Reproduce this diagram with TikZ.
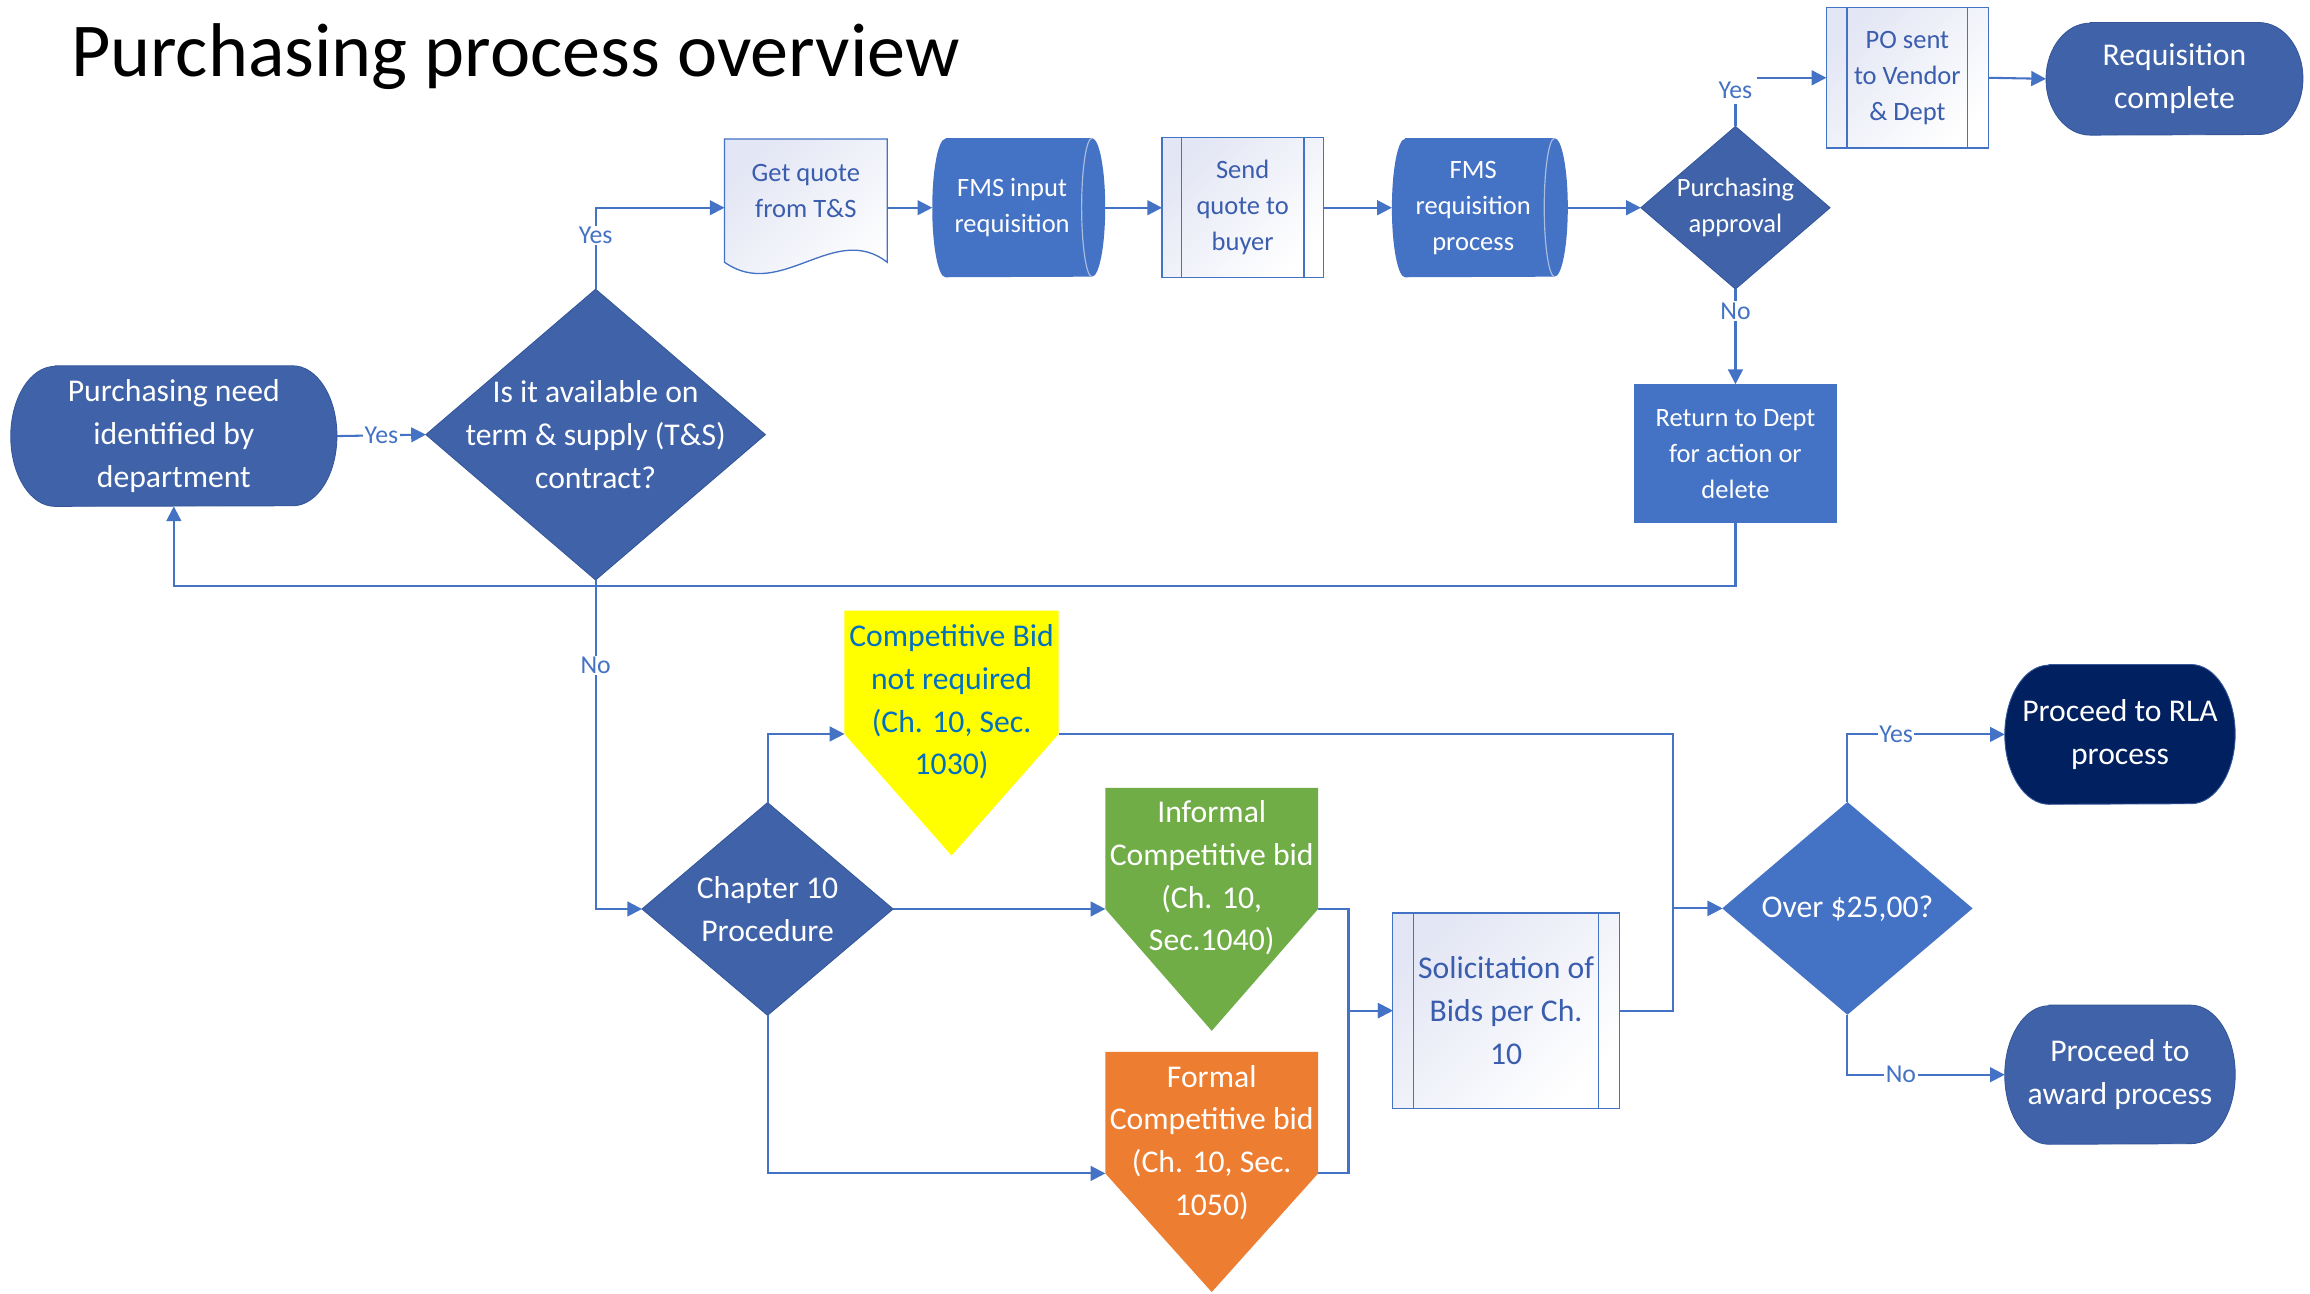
\documentclass[tikz,border=0pt]{standalone}
\usepackage{fontspec}
\setmainfont{Carlito}
\usetikzlibrary{arrows.meta,backgrounds,calc}
\definecolor{mblue}{HTML}{4472C4}
\definecolor{dblue}{HTML}{3F62A9}
\definecolor{cnavy}{HTML}{002060}
\definecolor{tblue}{HTML}{3A5DAE}
\definecolor{lav}{HTML}{E3E6F4}
\definecolor{cyel}{HTML}{FFFF00}
\definecolor{ytext}{HTML}{0070C0}
\definecolor{cgreen}{HTML}{70AD47}
\definecolor{corange}{HTML}{ED7D31}
\definecolor{dedge}{HTML}{35579A}
\definecolor{cyledge}{HTML}{A9BCE0}
\newcommand\termshape[4]{\path[#4] ([xshift=#2]#1.north west) -- ([xshift=-#2]#1.north east) arc[start angle=90,end angle=-90,x radius=#2,y radius=#3] -- ([xshift=#2]#1.south west) arc[start angle=270,end angle=90,x radius=#2,y radius=#3] -- cycle;}
\newcommand\diashape[2]{\path[#2] (#1.north) -- (#1.east) -- (#1.south) -- (#1.west) -- cycle;}
\newcommand\cylshape[1]{\path[fill=mblue] ([xshift=9pt]#1.north west) -- (#1.north east) arc[start angle=90,end angle=-90,x radius=9pt,y radius=47pt] -- ([xshift=9pt]#1.south west) arc[start angle=270,end angle=90,x radius=9pt,y radius=47pt] -- cycle;
\draw[cyledge,line width=0.8pt] (#1.north east) arc[start angle=90,end angle=270,x radius=7pt,y radius=47pt];}
\newcommand\predef[2]{\path[lightfill] (#1.north west) rectangle (#1.south east);
\draw[mblue,line width=0.9pt] ([xshift=#2]#1.north west) -- ([xshift=#2]#1.south west) ([xshift=-#2]#1.north east) -- ([xshift=-#2]#1.south east);}
\begin{document}
\begin{tikzpicture}[x=1pt,y=-1pt,
 box/.style={rectangle,draw=none,inner sep=0pt,align=center},
 big/.style={font=\fontsize{21.5}{29}\selectfont},
 small/.style={font=\fontsize{18}{24.5}\selectfont},
 wt/.style={text=white},
 bt/.style={text=tblue},
 conn/.style={draw=mblue,line width=1.4pt,-{Triangle[length=10pt,width=10pt]}},
 lab/.style={fill=white,text=mblue,font=\fontsize{17.5}{20}\selectfont,inner sep=1pt},
 lightfill/.style={top color=lav,bottom color=white,shading angle=45,draw=mblue,line width=0.9pt},
 darkfill/.style={fill=dblue,draw=dedge,line width=0.6pt},
 ]
\useasboundingbox (0,0) rectangle (1568,878);

\node[anchor=base west,font=\fontsize{51.7}{60}\selectfont,inner sep=0pt] (title) at (48,52) {Purchasing process overview};

\node[box,big,wt,minimum width=221,minimum height=95] (need) at (118,296) {Purchasing need\\identified by\\department};
\node[box,big,wt,minimum width=230,minimum height=197] (isit) at (404.3,295) {Is it available on\\term \& supply (T\&S)\\contract?};
\node[box,small,bt,minimum width=110,minimum height=70] (gq) at (547,129.5) {Get quote\\from T\&S};
\node[box,small,wt,minimum width=108,minimum height=94] (fms1) at (687,141) {FMS input\\requisition};
\node[box,small,bt,minimum width=109,minimum height=94.6] (sq) at (843.5,141) {Send\\quote to\\buyer};
\node[box,small,wt,minimum width=110,minimum height=94] (fms2) at (1000,141) {FMS\\requisition\\process};
\node[box,small,wt,minimum width=128,minimum height=110] (pa) at (1178,141) {Purchasing\\approval};
\node[box,small,bt,minimum width=109.5,minimum height=95] (po) at (1294.7,52.8) {PO sent\\to Vendor\\\& Dept};
\node[box,big,wt,minimum width=174,minimum height=76] (reqc) at (1476,53.5) {Requisition\\complete};
\node[box,small,wt,minimum width=137.5,minimum height=94] (ret) at (1178,308) {Return to Dept\\for action or\\delete};
\node[box,big,wt,minimum width=170,minimum height=144] (ch10) at (521,617) {Chapter 10\\Procedure};
\node[box,big,text=ytext,minimum width=145,minimum height=123.6] (yel) at (645.9,476.5) {Competitive Bid\\not required\\(Ch. 10, Sec.\\1030)};
\node[box,big,wt,minimum width=144,minimum height=122] (grn) at (822.5,596) {Informal\\Competitive bid\\(Ch. 10,\\Sec.1040)};
\node[box,big,wt,minimum width=144,minimum height=122.6] (org) at (822.5,775.5) {Formal\\Competitive bid\\(Ch. 10, Sec.\\1050)};
\node[box,big,bt,minimum width=153.5,minimum height=132] (sol) at (1022.3,686) {Solicitation of\\Bids per Ch.\\10};
\node[box,big,wt,minimum width=169.5,minimum height=144] (over) at (1254,616.6) {Over \$25,00?};
\node[box,big,wt,minimum width=156,minimum height=94.5] (rla) at (1439,498.5) {Proceed to RLA\\process};
\node[box,big,wt,minimum width=156,minimum height=94] (award) at (1439,729.5) {Proceed to\\award process};

\begin{scope}[on background layer]
\fill[white] (0,0) rectangle (1568,878);
\termshape{need}{30pt}{47.5pt}{darkfill}
\termshape{reqc}{30pt}{38pt}{darkfill}
\termshape{rla}{30pt}{47.25pt}{fill=cnavy,draw=dedge,line width=0.6pt}
\termshape{award}{30pt}{47pt}{darkfill}
\diashape{isit}{darkfill}
\diashape{pa}{darkfill}
\diashape{ch10}{darkfill}
\diashape{over}{fill=mblue}
\cylshape{fms1}
\cylshape{fms2}
\predef{sq}{13pt}
\predef{po}{14pt}
\predef{sol}{14pt}
\path[fill=mblue] (ret.north west) rectangle (ret.south east);
\path[lightfill] (gq.north west) -- (gq.north east) -- ([yshift=-48.5pt]gq.east) .. controls +(-36pt,28pt) and +(38pt,-27pt) .. ([yshift=-48.5pt]gq.west) -- cycle;
\path[fill=cyel] (yel.north west) -- (yel.north east) -- ([yshift=-21.7pt]yel.east) -- ([yshift=-104.2pt]yel.center) -- ([yshift=-21.7pt]yel.west) -- cycle;
\path[fill=cgreen] (grn.north west) -- (grn.north east) -- ([yshift=-21pt]grn.east) -- ([yshift=-103.7pt]grn.center) -- ([yshift=-21pt]grn.west) -- cycle;
\path[fill=corange] (org.north west) -- (org.north east) -- ([yshift=-21pt]org.east) -- ([yshift=-101.5pt]org.center) -- ([yshift=-21pt]org.west) -- cycle;
\end{scope}

\coordinate (gqL) at ([yshift=-11.5pt]gq.west);
\coordinate (gqR) at ([yshift=-11.5pt]gq.east);
\coordinate (fms1R) at ([xshift=9pt]fms1.east);
\coordinate (fms2R) at ([xshift=9pt]fms2.east);
\coordinate (yelL) at ([yshift=-21.7pt]yel.west);
\coordinate (yelR) at ([yshift=-21.7pt]yel.east);
\coordinate (grnL) at ([yshift=-21pt]grn.west);
\coordinate (grnR) at ([yshift=-21pt]grn.east);
\coordinate (orgL) at ([yshift=-21pt]org.west);
\coordinate (orgR) at ([yshift=-21pt]org.east);
\coordinate (loop) at (0,397.5);
\coordinate (jx) at ([xshift=-30pt]sol.west);
\coordinate (jy) at ([xshift=-33.5pt]over.west);

\draw[conn] (need.east) -- node[lab]{Yes} (isit.west);
\draw[conn] (isit.north) |- node[lab,pos=0.33]{Yes} (gqL);
\draw[conn] (gqR) -- (fms1.west);
\draw[conn] (fms1R) -- (sq.west);
\draw[conn] (sq.east) -- (fms2.west);
\draw[conn] (fms2R) -- (pa.west);
\draw[conn] (pa.north) |- node[lab,pos=0.37,inner sep=3.5pt]{Yes} (po.west);
\draw[conn] (po.east) -- (reqc.west);
\draw[conn] (pa.south) -- node[lab,pos=0.23]{No} (ret.north);
\draw[conn] (ret.south) -- (ret.south |- loop) -| (need.south);
\draw[conn] (isit.south) |- node[lab,pos=0.13]{No} (ch10.west);
\draw[conn] (ch10.north) |- (yelL);
\draw[conn] (ch10.east) -- (grnL);
\draw[conn] (ch10.south) |- (orgL);
\draw[conn] (grnR) -| (jx) -- (sol.west);
\draw[conn] (orgR) -| (jx) -- (sol.west);
\draw[conn] (yelR) -| (jy) -- (over.west);
\draw[conn] (sol.east) -| (jy) -- (over.west);
\draw[conn] (over.north) |- node[lab,pos=0.655]{Yes} (rla.west);
\draw[conn] (over.south) |- node[lab,pos=0.67]{No} (award.west);
\end{tikzpicture}
\end{document}
